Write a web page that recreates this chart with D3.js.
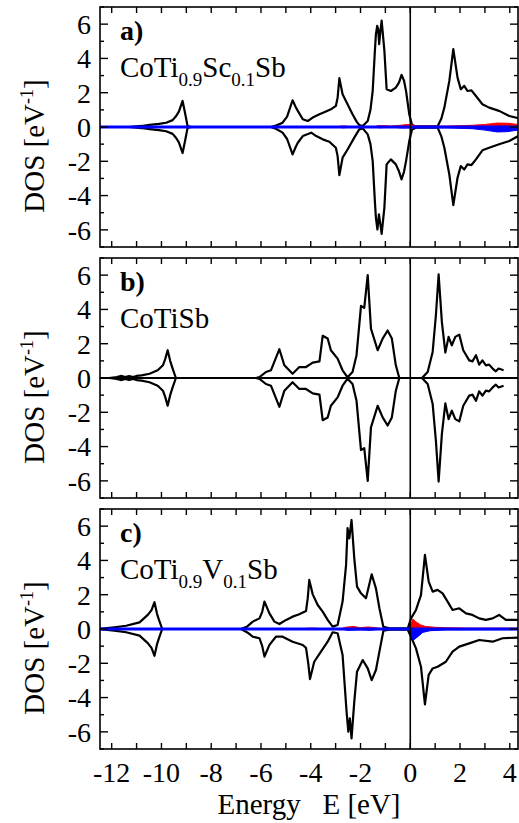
<!DOCTYPE html>
<html>
<head>
<meta charset="utf-8">
<script src="https://cdn.jsdelivr.net/npm/d3@7"></script>
<style>
  body { margin: 0; background: #fff; }
</style>
</head>
<body>
<div id="chart"></div>
<script>
// energy ticks (eV) and DOS ticks
const xTickLabels = [-12, -10, -8, -6, -4, -2, 0, 2, 4];
const yTickLabels = [-6, -4, -2, 0, 2, 4, 6];

// a) CoTi0.9Sc0.1Sb : total DOS spin up / spin down  [E, DOS]
const upA = [[-11.3,0],[-10.8,0.06],[-10.48,0.12],[-10.1,0.18],[-9.81,0.25],[-9.55,0.4],[-9.41,0.64],[-9.3,0.9],[-9.15,1.52],[-9.05,0.8],[-8.95,0.05],[-8.8,0],
  [-5.6,0],[-5.4,0.08],[-5.13,0.25],[-4.95,0.6],[-4.73,1.56],[-4.6,1.15],[-4.52,0.94],[-4.32,0.45],[-4.12,0.35],[-3.92,0.55],[-3.65,0.74],[-3.39,0.9],[-3.19,1.03],[-2.99,1.23],[-2.92,1.7],[-2.85,2.85],[-2.72,1.91],[-2.52,1.33],[-2.32,0.74],[-2.15,0.3],[-2.05,0.12],[-1.91,0.06],[-1.71,0.35],[-1.6,1.0],[-1.51,2.1],[-1.42,4.5],[-1.38,5.42],[-1.33,5.9],[-1.29,5.7],[-1.25,4.83],[-1.2,5.6],[-1.15,6.2],[-1.04,4.44],[-0.95,2.2],[-0.78,2.1],[-0.58,2.3],[-0.45,2.6],[-0.35,3.04],[-0.25,2.7],[-0.17,2.1],[-0.04,0.74],[0.07,0.12],[0.23,0.04],[1.1,0.04],[1.25,0.5],[1.37,1.13],[1.57,2.69],[1.73,4.54],[1.9,2.88],[2.03,2.2],[2.17,2.4],[2.3,2.1],[2.46,2.14],[2.64,1.81],[2.9,1.33],[3.17,1.13],[3.57,0.94],[3.98,0.64],[4.34,0.51]];
const downA = [[-11.3,0],[-10.8,-0.06],[-10.48,-0.12],[-10.1,-0.18],[-9.81,-0.25],[-9.55,-0.4],[-9.41,-0.64],[-9.3,-0.9],[-9.15,-1.52],[-9.05,-0.8],[-8.95,-0.05],[-8.8,0],
  [-5.6,0],[-5.4,-0.1],[-5.13,-0.33],[-4.95,-0.7],[-4.73,-1.6],[-4.6,-1.15],[-4.52,-0.92],[-4.32,-0.53],[-3.98,-0.33],[-3.78,-0.53],[-3.52,-0.72],[-3.25,-0.86],[-2.99,-1.21],[-2.92,-1.7],[-2.85,-2.81],[-2.72,-1.79],[-2.52,-1.31],[-2.25,-0.62],[-2.05,-0.14],[-1.91,-0.08],[-1.71,-0.43],[-1.6,-1.0],[-1.51,-1.99],[-1.42,-4.4],[-1.38,-5.3],[-1.32,-5.98],[-1.26,-5.1],[-1.2,-5.7],[-1.15,-6.24],[-1.04,-4.7],[-0.95,-2.18],[-0.78,-1.89],[-0.58,-2.18],[-0.45,-2.6],[-0.35,-3.06],[-0.25,-2.6],[-0.17,-1.99],[-0.04,-0.82],[0.07,-0.14],[0.23,-0.04],[1.1,-0.04],[1.25,-0.55],[1.37,-1.21],[1.57,-2.77],[1.73,-4.56],[1.9,-2.96],[2.03,-2.28],[2.17,-2.48],[2.3,-2.18],[2.46,-2.22],[2.64,-1.89],[2.9,-1.36],[3.17,-1.21],[3.57,-1.01],[3.98,-0.82],[4.34,-0.53]];
// a) Sc partial DOS
const scUpA = [[-12.5,0],[-2.9,0],[-2.8,0.06],[-2.6,0.06],[-2.4,0],[-1.45,0],[-1.3,0.08],[-1.0,0.08],[-0.8,0.05],[-0.4,0.1],[-0.1,0.15],[0.1,0.12],[0.3,0.05],[1.5,0.05],[2.0,0.08],[2.5,0.1],[3.0,0.15],[3.5,0.23],[3.9,0.22],[4.34,0.15]];
const scDownA = [[-12.5,0],[-2.9,0],[-2.7,-0.05],[-2.4,0],[-1.45,0],[-1.2,-0.05],[-0.9,0],[-0.3,-0.06],[0.2,-0.04],[1.5,-0.05],[2.5,-0.1],[3.0,-0.18],[3.5,-0.29],[3.9,-0.27],[4.34,-0.18]];

// b) CoTiSb : total DOS (non-magnetic, spin down mirrors spin up)
const dosB = [[-12.1,0],[-11.8,0.05],[-11.6,0.12],[-11.45,0.05],[-11.3,0.12],[-11.15,0.05],[-11.0,0.12],[-10.8,0.15],[-10.48,0.25],[-10.15,0.45],[-9.94,0.74],[-9.85,1.1],[-9.75,1.62],[-9.65,1.0],[-9.55,0.55],[-9.42,0],
  [-6.2,0],[-6.06,0.05],[-5.8,0.35],[-5.6,0.45],[-5.26,1.68],[-5.06,0.74],[-4.73,0.25],[-4.46,0.64],[-4.19,0.64],[-3.92,0.9],[-3.65,0.97],[-3.52,2.46],[-3.32,2.3],[-3.19,1.62],[-2.92,1.13],[-2.72,0.45],[-2.52,0.04],[-2.32,0.35],[-2.16,1.33],[-1.98,4.21],[-1.85,4.09],[-1.71,6.0],[-1.58,2.88],[-1.31,1.62],[-1.11,2.3],[-0.91,2.77],[-0.74,2.3],[-0.58,0.74],[-0.44,0],[0.47,0],[0.7,0.35],[0.9,1.52],[1.03,3.66],[1.14,6.04],[1.27,3.27],[1.41,1.48],[1.54,2.4],[1.67,1.91],[1.81,2.4],[1.97,2.53],[2.13,1.62],[2.37,1.03],[2.5,0.97],[2.64,1.33],[2.77,0.78],[2.9,1.03],[3.04,0.74],[3.17,0.78],[3.31,0.55],[3.44,0.39],[3.55,0.55],[3.75,0.45]];

// c) CoTi0.9V0.1Sb : total DOS spin up / spin down
const upC = [[-12.5,0],[-11.9,0.1],[-11.42,0.19],[-10.88,0.39],[-10.55,0.82],[-10.4,1.1],[-10.28,1.56],[-10.18,0.9],[-10.1,0.53],[-9.97,0],
  [-6.8,0],[-6.55,0.15],[-6.33,0.43],[-6.06,0.62],[-5.95,1.0],[-5.86,1.6],[-5.66,0.91],[-5.46,0.43],[-5.26,0.29],[-4.99,0.53],[-4.73,0.72],[-4.46,0.86],[-4.19,1.05],[-4.12,1.8],[-4.06,2.86],[-3.92,2.02],[-3.72,1.4],[-3.52,1.01],[-3.32,0.53],[-3.12,0.14],[-2.92,0.23],[-2.72,1.6],[-2.58,3.74],[-2.52,5.88],[-2.45,5.29],[-2.36,6.36],[-2.25,4.12],[-2.14,2.47],[-1.98,2.08],[-1.78,1.79],[-1.55,3.19],[-1.38,2.37],[-1.24,1.21],[-1.08,0.12],[-0.84,0.04],[-0.1,0.04],[0.03,0.62],[0.23,1.11],[0.43,1.98],[0.59,4.32],[0.74,2.76],[0.9,2.18],[1.1,2.28],[1.3,2.08],[1.5,1.6],[1.7,1.11],[1.97,1.21],[2.24,0.91],[2.5,0.82],[2.77,0.62],[3.04,0.53],[3.31,0.62],[3.57,0.82],[3.84,0.53],[4.34,0.53]];
const downC = [[-12.5,0],[-11.9,-0.1],[-11.42,-0.19],[-10.88,-0.39],[-10.55,-0.82],[-10.4,-1.1],[-10.28,-1.56],[-10.18,-0.9],[-10.1,-0.53],[-9.97,0],
  [-6.8,0],[-6.55,-0.2],[-6.33,-0.45],[-6.06,-0.54],[-5.95,-1.0],[-5.86,-1.61],[-5.66,-0.93],[-5.4,-0.45],[-5.13,-0.45],[-4.73,-0.74],[-4.32,-0.93],[-4.19,-1.1],[-4.1,-2.0],[-4.03,-2.92],[-3.86,-1.91],[-3.59,-1.32],[-3.32,-0.74],[-3.12,-0.19],[-2.92,-0.25],[-2.72,-1.52],[-2.56,-4.82],[-2.49,-5.99],[-2.43,-5.21],[-2.36,-6.38],[-2.25,-4.24],[-2.14,-2.49],[-1.91,-1.81],[-1.71,-2.3],[-1.55,-2.98],[-1.38,-2.39],[-1.24,-1.32],[-1.08,-0.1],[-0.84,-0.04],[-0.1,-0.04],[0.03,-0.45],[0.23,-1.13],[0.43,-2.2],[0.59,-4.4],[0.74,-2.68],[0.9,-2.3],[1.1,-2.2],[1.43,-1.91],[1.7,-1.32],[1.97,-1.03],[2.37,-0.84],[2.77,-0.64],[3.31,-0.74],[3.71,-0.54],[4.34,-0.5]];
// c) V partial DOS
const vUpC = [[-12.5,0],[-4.3,0],[-4.1,0.05],[-3.8,0.05],[-3.6,0],[-2.8,0],[-2.6,0.1],[-2.3,0.15],[-2.0,0.08],[-1.7,0.12],[-1.4,0.08],[-1.1,0],[-0.05,0],[0.03,0.3],[0.1,0.58],[0.2,0.45],[0.4,0.25],[0.6,0.15],[1.0,0.1],[1.5,0.07],[2.5,0.05],[4.34,0.05]];
const vDownC = [[-12.5,0],[-2.8,0],[-2.5,-0.08],[-2.0,-0.05],[-1.6,-0.08],[-1.1,0],[-0.05,0],[0.03,-0.3],[0.12,-0.65],[0.3,-0.45],[0.5,-0.2],[0.8,-0.1],[1.5,-0.05],[4.34,-0.04]];

const panels = [
  { letter: "a)", formula: [["CoTi", 0], ["0.9", 1], ["Sc", 0], ["0.1", 1], ["Sb", 0]],
    up: upA, down: downA, impUp: scUpA, impDown: scDownA },
  { letter: "b)", formula: [["CoTiSb", 0]],
    up: dosB, down: dosB.map(d => [d[0], -d[1]]), impUp: null, impDown: null },
  { letter: "c)", formula: [["CoTi", 0], ["0.9", 1], ["V", 0], ["0.1", 1], ["Sb", 0]],
    up: upC, down: downC, impUp: vUpC, impDown: vDownC }
];

const W = 519, H = 823;
const left = 100, right = 518;
const panelTops = [7, 258, 509];
const panelH = 240;
const serif = "Liberation Serif";

const svg = d3.select("#chart").append("svg")
  .attr("width", W)
  .attr("height", H)
  .attr("font-family", serif);

const x = d3.scaleLinear().domain([-12.47, 4.33]).range([left, right]);

panels.forEach(function(p, i) {
  const top = panelTops[i];
  const y = d3.scaleLinear().domain([-7, 7]).range([top + panelH, top]);

  const g = svg.append("g");

  svg.append("clipPath").attr("id", "clip" + i)
    .append("rect")
      .attr("x", left).attr("y", top)
      .attr("width", right - left).attr("height", panelH);

  const plot = g.append("g").attr("clip-path", "url(#clip" + i + ")");

  const line = d3.line()
    .x(d => x(d[0]))
    .y(d => y(d[1]));

  const area = d3.area()
    .x(d => x(d[0]))
    .y0(y(0))
    .y1(d => y(d[1]));

  // total DOS, spin up and spin down
  plot.append("path").attr("d", line(p.up))
    .attr("fill", "none").attr("stroke", "#000").attr("stroke-width", 2.2)
    .attr("stroke-linejoin", "round");
  plot.append("path").attr("d", line(p.down))
    .attr("fill", "none").attr("stroke", "#000").attr("stroke-width", 2.2)
    .attr("stroke-linejoin", "round");

  if (p.impUp) {
    plot.append("path").attr("d", area(p.impUp))
      .attr("fill", "#ff0000").attr("stroke", "#ff0000").attr("stroke-width", 1);
    plot.append("path").attr("d", area(p.impDown))
      .attr("fill", "#0000ff").attr("stroke", "#0000ff").attr("stroke-width", 1);
    plot.append("line")
      .attr("x1", left).attr("x2", right)
      .attr("y1", y(0)).attr("y2", y(0))
      .attr("stroke", "#0000ff").attr("stroke-width", 3);
  } else {
    plot.append("line")
      .attr("x1", left).attr("x2", right)
      .attr("y1", y(0)).attr("y2", y(0))
      .attr("stroke", "#000").attr("stroke-width", 2);
  }

  // Fermi level
  plot.append("line")
    .attr("x1", x(0)).attr("x2", x(0))
    .attr("y1", top).attr("y2", top + panelH)
    .attr("stroke", "#000").attr("stroke-width", 1.6);

  // ticks, all inward
  const xMinor = d3.range(-12, 5, 1);
  const yMinor = d3.range(-7, 8, 1);
  const tk = g.append("g").attr("stroke", "#000").attr("stroke-width", 1.4);
  xMinor.forEach(function(v) {
    tk.append("line").attr("x1", x(v)).attr("x2", x(v))
      .attr("y1", top).attr("y2", top + 6);
    tk.append("line").attr("x1", x(v)).attr("x2", x(v))
      .attr("y1", top + panelH).attr("y2", top + panelH - 6);
  });
  yMinor.forEach(function(v) {
    const len = (v % 2 === 0) ? 8 : 4;
    tk.append("line").attr("x1", left).attr("x2", left + len)
      .attr("y1", y(v)).attr("y2", y(v));
    tk.append("line").attr("x1", right).attr("x2", right - len)
      .attr("y1", y(v)).attr("y2", y(v));
  });

  // frame
  g.append("rect")
    .attr("x", left).attr("y", top)
    .attr("width", right - left).attr("height", panelH)
    .attr("fill", "none").attr("stroke", "#000").attr("stroke-width", 1.6);

  // y tick labels
  g.selectAll(".ylab")
    .data(yTickLabels)
    .enter().append("text")
      .attr("x", left - 9)
      .attr("y", d => y(d))
      .attr("dy", "0.35em")
      .attr("text-anchor", "end")
      .attr("font-family", serif)
      .attr("font-size", 28)
      .text(d => d);

  // y axis title
  const yt = g.append("text")
    .attr("transform", "translate(44," + (y(0) + 19) + ") rotate(-90)")
    .attr("text-anchor", "middle")
    .attr("font-family", serif)
    .attr("font-size", 29);
  yt.append("tspan").text("DOS [eV");
  yt.append("tspan").attr("font-size", 18).attr("dy", -11).text("-1");
  yt.append("tspan").attr("dy", 11).text("]");

  // panel letter and compound
  g.append("text")
    .attr("x", 120).attr("y", top + 33)
    .attr("font-family", serif)
    .attr("font-size", 28).attr("font-weight", "bold")
    .text(p.letter);

  const ft = g.append("text")
    .attr("x", 120).attr("y", top + 70)
    .attr("font-family", serif)
    .attr("font-size", 29);
  let sub = 0;
  p.formula.forEach(function(f) {
    const t = ft.append("tspan").text(f[0]);
    if (f[1] !== sub) {
      t.attr("dy", f[1] ? 9 : -9);
      sub = f[1];
    }
    if (f[1]) t.attr("font-size", 19);
  });

  // x tick labels on the last panel
  if (i === panels.length - 1) {
    g.selectAll(".xlab")
      .data(xTickLabels)
      .enter().append("text")
        .attr("x", d => x(d))
        .attr("y", top + panelH + 33)
        .attr("text-anchor", "middle")
        .attr("font-family", serif)
        .attr("font-size", 28)
        .text(d => d);

    g.append("text")
      .attr("x", (left + right) / 2)
      .attr("y", top + panelH + 65)
      .attr("text-anchor", "middle")
      .attr("font-family", serif)
      .attr("font-size", 29)
      .style("white-space", "pre")
      .text("Energy   E [eV]");
  }
});
</script>
</body>
</html>
